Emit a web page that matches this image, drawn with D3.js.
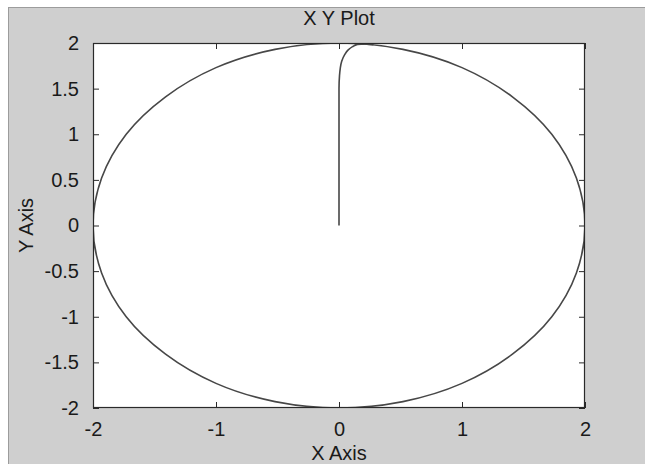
<!DOCTYPE html>
<html>
<head>
<meta charset="utf-8">
<script src="https://cdn.jsdelivr.net/npm/d3@7"></script>
<style>
  html, body { margin: 0; padding: 0; background: #ffffff; }
  svg { display: block; }
  text { font-family: "Liberation Sans", Arial, sans-serif; fill: #1a1a1a; }
</style>
</head>
<body>
<div id="chart"></div>
<script>
// Limit cycle of radius 2, sampled every 15 degrees
const cycleX = [2.00, 1.93, 1.73, 1.41, 1.00, 0.52, 0.00, -0.52, -1.00, -1.41, -1.73, -1.93,
                -2.00, -1.93, -1.73, -1.41, -1.00, -0.52, 0.00, 0.52, 1.00, 1.41, 1.73, 1.93];
const cycleY = [0.00, 0.52, 1.00, 1.41, 1.73, 1.93, 2.00, 1.93, 1.73, 1.41, 1.00, 0.52,
                0.00, -0.52, -1.00, -1.41, -1.73, -1.93, -2.00, -1.93, -1.73, -1.41, -1.00, -0.52];

// Trajectory leaving the origin and settling onto the cycle
const pathX = [0.00, 0.00, 0.00, 0.00, 0.004, 0.01, 0.022, 0.045, 0.075, 0.11, 0.15, 0.21, 0.28];
const pathY = [0.00, 0.50, 1.00, 1.50, 1.64, 1.72, 1.80, 1.87, 1.925, 1.96, 1.985, 1.99, 1.98];

const xTicks = [-2, -1, 0, 1, 2];
const yTicks = [-2, -1.5, -1, -0.5, 0, 0.5, 1, 1.5, 2];

const W = 645, H = 464;
const svg = d3.select("#chart").append("svg").attr("width", W).attr("height", H);

// figure panel
svg.append("rect").attr("x", 8.5).attr("y", 7.5).attr("width", W - 8).attr("height", H - 7)
  .attr("fill", "#cfcfcf").attr("stroke", "#9c9c9c").attr("stroke-width", 1);

const plot = { left: 93, right: 585, top: 43, bottom: 408 };
const x = d3.scaleLinear().domain([-2, 2]).range([plot.left, plot.right]);
const y = d3.scaleLinear().domain([-2, 2]).range([plot.bottom, plot.top]);

svg.append("rect").attr("x", plot.left).attr("y", plot.top)
  .attr("width", plot.right - plot.left).attr("height", plot.bottom - plot.top)
  .attr("fill", "#ffffff");

svg.append("clipPath").attr("id", "pc").append("rect")
  .attr("x", plot.left).attr("y", plot.top)
  .attr("width", plot.right - plot.left).attr("height", plot.bottom - plot.top);

const g = svg.append("g").attr("clip-path", "url(#pc)");

const cycle = cycleX.map((v, i) => [v, cycleY[i]]);
g.append("path")
  .attr("d", d3.line().x(d => x(d[0])).y(d => y(d[1])).curve(d3.curveCatmullRomClosed.alpha(0.5))(cycle))
  .attr("fill", "none").attr("stroke", "#474747").attr("stroke-width", 1.6);

const traj = pathX.map((v, i) => [v, pathY[i]]);
g.append("path")
  .attr("d", d3.line().x(d => x(d[0])).y(d => y(d[1])).curve(d3.curveMonotoneY)(traj))
  .attr("fill", "none").attr("stroke", "#474747").attr("stroke-width", 1.6);

// axes: inward ticks on all four sides
const tick = 6;
const axStyle = a => {
  a.select(".domain").remove();
  a.selectAll(".tick line").attr("stroke", "#2a2a2a").attr("stroke-width", 1);
};
const labelStyle = a => a.selectAll("text").attr("font-size", 20).attr("fill", "#1a1a1a")
  .attr("font-family", "Liberation Sans, Arial, sans-serif");

svg.append("g").attr("transform", `translate(0,${plot.bottom})`)
  .call(d3.axisBottom(x).tickValues(xTicks).tickSizeInner(-tick).tickSizeOuter(0).tickPadding(14).tickFormat(d => String(d)))
  .call(axStyle).call(labelStyle);
svg.append("g").attr("transform", `translate(0,${plot.top})`)
  .call(d3.axisTop(x).tickValues(xTicks).tickSizeInner(-tick).tickSizeOuter(0).tickFormat(""))
  .call(axStyle);
svg.append("g").attr("transform", `translate(${plot.left},0)`)
  .call(d3.axisLeft(y).tickValues(yTicks).tickSizeInner(-tick).tickSizeOuter(0).tickPadding(14).tickFormat(d => String(d)))
  .call(axStyle).call(labelStyle);
svg.append("g").attr("transform", `translate(${plot.right},0)`)
  .call(d3.axisRight(y).tickValues(yTicks).tickSizeInner(-tick).tickSizeOuter(0).tickFormat(""))
  .call(axStyle);

svg.append("rect").attr("x", plot.left + 0.5).attr("y", plot.top + 0.5)
  .attr("width", plot.right - plot.left - 1).attr("height", plot.bottom - plot.top - 1)
  .attr("fill", "none").attr("stroke", "#2a2a2a").attr("stroke-width", 1.2);

// labels
svg.append("text").attr("x", (plot.left + plot.right) / 2).attr("y", 25)
  .attr("text-anchor", "middle").attr("font-size", 20).text("X Y Plot");
svg.append("text").attr("x", (plot.left + plot.right) / 2).attr("y", 460)
  .attr("text-anchor", "middle").attr("font-size", 20).text("X Axis");
svg.append("text").attr("transform", `translate(33,${(plot.top + plot.bottom) / 2}) rotate(-90)`)
  .attr("text-anchor", "middle").attr("font-size", 20).text("Y Axis");
</script>
</body>
</html>
